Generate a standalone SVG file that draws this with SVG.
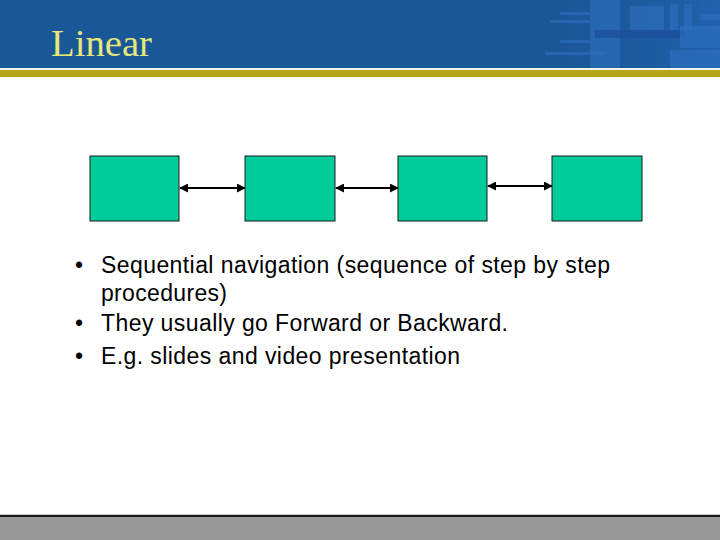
<svg xmlns="http://www.w3.org/2000/svg" width="720" height="540" viewBox="0 0 720 540">
<defs>
<style>
.node{fill:#00cc99;stroke:#1a1a1a;stroke-width:1}
.conn{stroke:#000;stroke-width:2;fill:none;marker-start:url(#ah);marker-end:url(#ah)}
.bul{font-family:"Liberation Sans",Arial,sans-serif;font-size:23px;fill:#000}
.deco{fill:#2f6fc0;opacity:0.6}
</style>
<marker id="ah" viewBox="0 0 10 10" refX="9" refY="5" markerWidth="4.5" markerHeight="4.5" orient="auto-start-reverse" markerUnits="strokeWidth">
<path d="M0,0 L10,5 L0,10 z" fill="#000"/>
</marker>
<linearGradient id="fade" x1="0" x2="1" y1="0" y2="0">
<stop offset="0" stop-color="#1a5797" stop-opacity="0"/>
<stop offset="1" stop-color="#2a6cc4" stop-opacity="1"/>
</linearGradient>
</defs>
<rect x="0" y="0" width="720" height="540" fill="#fff"/>
<g id="header">
<rect x="0" y="0" width="720" height="68" fill="#1a5797"/>
<rect x="530" y="0" width="190" height="68" fill="url(#fade)" opacity="0.5"/>
<rect x="590" y="0" width="30" height="68" class="deco"/>
<rect x="630" y="6" width="34" height="24" class="deco"/>
<rect x="670" y="4" width="8" height="26" class="deco"/>
<rect x="684" y="4" width="8" height="26" class="deco"/>
<rect x="700" y="14" width="20" height="6" class="deco"/>
<rect x="595" y="30" width="90" height="8" fill="#1a4f9a" opacity="0.7"/>
<rect x="680" y="26" width="40" height="22" class="deco"/>
<rect x="670" y="50" width="50" height="18" class="deco"/>
<rect x="560" y="12" width="30" height="3" class="deco"/>
<rect x="550" y="20" width="40" height="3" class="deco"/>
<rect x="560" y="40" width="30" height="3" class="deco"/>
<rect x="545" y="52" width="60" height="3" class="deco"/>
<rect x="0" y="68" width="720" height="2" fill="#f4f4e8"/>
<rect x="0" y="70" width="720" height="7" fill="#b3a51c"/>
<text x="51" y="56" font-family="'Liberation Serif','Times New Roman',serif" font-size="38" fill="#e6e67a" textLength="101" lengthAdjust="spacingAndGlyphs">Linear</text>
</g>
<g id="connectors">
<line class="conn" x1="180" y1="188" x2="245" y2="188"/>
<line class="conn" x1="336" y1="188" x2="398" y2="188"/>
<line class="conn" x1="488" y1="186" x2="552" y2="186"/>
</g>
<g id="node1"><rect class="node" x="90" y="156" width="89" height="65"/></g>
<g id="node2"><rect class="node" x="245" y="156" width="90" height="65"/></g>
<g id="node3"><rect class="node" x="398" y="156" width="89" height="65"/></g>
<g id="node4"><rect class="node" x="552" y="156" width="90" height="65"/></g>
<g id="bullets">
<text class="bul" x="75" y="273">•</text>
<text class="bul" x="101" y="273" textLength="509">Sequential navigation (sequence of step by step</text>
<text class="bul" x="101" y="301" textLength="126">procedures)</text>
<text class="bul" x="75" y="331">•</text>
<text class="bul" x="101" y="331" textLength="407">They usually go Forward or Backward.</text>
<text class="bul" x="75" y="364">•</text>
<text class="bul" x="101" y="364" textLength="359">E.g. slides and video presentation</text>
</g>
<g id="footer">
<rect x="0" y="514" width="720" height="1" fill="#c8c8c8"/>
<rect x="0" y="515" width="720" height="2" fill="#1a1a1a"/>
<rect x="0" y="517" width="720" height="23" fill="#999"/>
</g>
</svg>
